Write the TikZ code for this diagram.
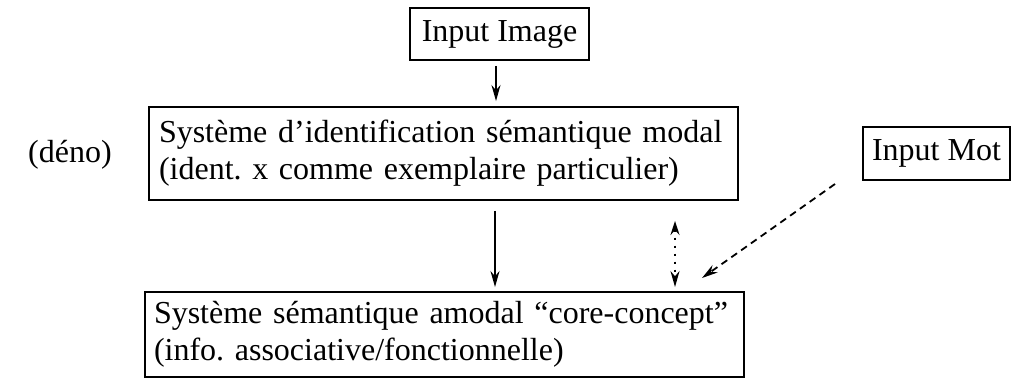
\documentclass[tikz,border=0pt]{standalone}
\usepackage{fontspec}
\setmainfont{Liberation Serif}
\frenchspacing
\usetikzlibrary{arrows.meta,calc}
\begin{document}
\begin{tikzpicture}[x=1pt,y=1pt,
  box/.style={draw, line width=1.9pt, rectangle, inner sep=0pt},
  lbl/.style={font=\fontsize{32}{37}\selectfont},
  arr/.style={line width=1.8pt, -{Stealth[length=16pt,width=9pt]}},
]
\useasboundingbox (0,0) rectangle (1012,-383);
\node[box, minimum width=179pt, minimum height=52pt, lbl] (img) at (499.5,-34) {Input Image};
\node[box, minimum width=589pt, minimum height=93pt, lbl, align=left, text width=569pt] (ident) at (443.5,-153.5)
  {Système d’identification sémantique modal\\(ident. x comme exemplaire particulier)};
\node[box, minimum width=599pt, minimum height=85pt, lbl, align=left, text width=581pt] (core) at (444.5,-334.5)
  {Système sémantique amodal “core-concept”\\(info. associative/fonctionnelle)};
\node[box, minimum width=147pt, minimum height=53pt, lbl] (mot) at (936.5,-153.5) {Input Mot};
\node[lbl] (deno) at (70,-155) {(déno)};
\coordinate (a1) at (496,0);
\draw[arr, shorten <=5pt, shorten >=5pt] (img.south -| a1) -- (ident.north -| a1);
\coordinate (a2) at (495,0);
\draw[arr, shorten <=10pt, shorten >=4pt] (ident.south -| a2) -- (core.north -| a2);
\coordinate (a3) at (675,0);
\draw[line width=1.8pt, dash pattern=on 2pt off 6pt, {Stealth[length=14pt,width=9pt]}-{Stealth[length=16pt,width=9pt]}, shorten <=20pt, shorten >=4pt] (ident.south -| a3) -- (core.north -| a3);
\coordinate (d1) at (835,-184);
\coordinate (d2) at (702,-278);
\draw[arr, dash pattern=on 7pt off 5pt] (d1) -- (d2);
\end{tikzpicture}
\end{document}
